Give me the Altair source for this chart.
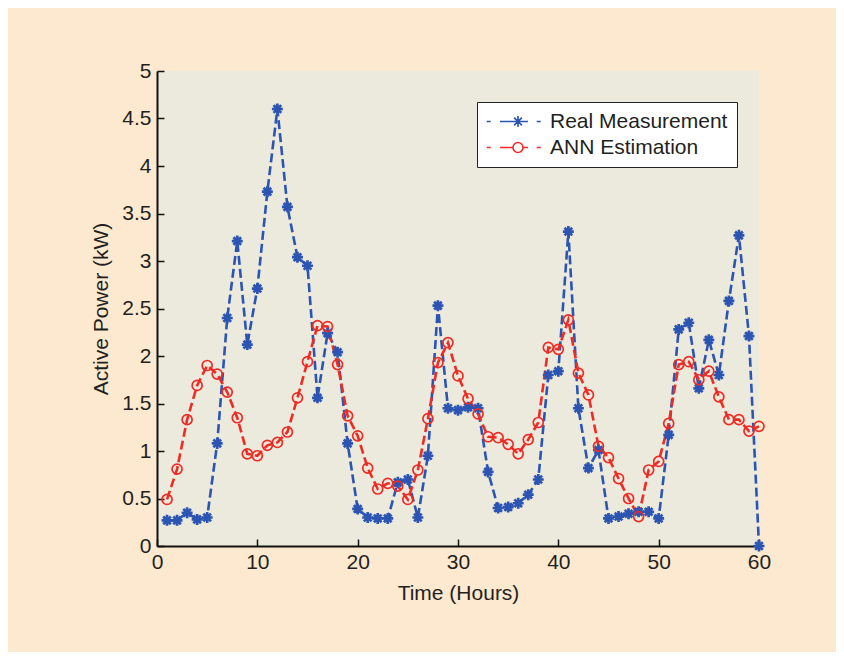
import altair as alt
import pandas as pd

hours = list(range(1, 61))
real = [0.27, 0.27, 0.35, 0.28, 0.30, 1.08, 2.40, 3.21, 2.12, 2.71,
        3.73, 4.60, 3.57, 3.04, 2.95, 1.56, 2.24, 2.04, 1.08, 0.39,
        0.30, 0.29, 0.29, 0.67, 0.70, 0.30, 0.95, 2.53, 1.45, 1.43,
        1.46, 1.45, 0.78, 0.40, 0.41, 0.45, 0.54, 0.70, 1.80, 1.84,
        3.31, 1.45, 0.82, 1.01, 0.29, 0.31, 0.34, 0.36, 0.36, 0.29,
        1.17, 2.28, 2.35, 1.66, 2.17, 1.80, 2.58, 3.27, 2.21, 0.00]
ann = [0.49, 0.81, 1.33, 1.69, 1.90, 1.81, 1.62, 1.35, 0.97, 0.95,
       1.06, 1.09, 1.20, 1.56, 1.94, 2.32, 2.31, 1.91, 1.37, 1.16,
       0.82, 0.60, 0.66, 0.63, 0.49, 0.80, 1.34, 1.93, 2.14, 1.79,
       1.55, 1.39, 1.15, 1.14, 1.07, 0.97, 1.12, 1.30, 2.09, 2.07,
       2.38, 1.82, 1.59, 1.05, 0.93, 0.71, 0.50, 0.31, 0.80, 0.89,
       1.29, 1.91, 1.94, 1.75, 1.84, 1.57, 1.33, 1.33, 1.21, 1.26]
series_names = ["Real Measurement", "ANN Estimation"]
series_colors = ["#2c54b2", "#ee2b25"]
x_ticks = [0, 10, 20, 30, 40, 50, 60]
y_ticks = [0, 0.5, 1, 1.5, 2, 2.5, 3, 3.5, 4, 4.5, 5]

df = pd.concat([
    pd.DataFrame({"hour": hours, "power": real, "series": series_names[0]}),
    pd.DataFrame({"hour": hours, "power": ann, "series": series_names[1]}),
])

FONT = "Liberation Sans"
TXT = "#231f20"

asterisk = "M-1,0L1,0M0,-1L0,1M-0.7,-0.7L0.7,0.7M-0.7,0.7L0.7,-0.7"

# legend glyphs: dash, line with marker, dash (unit = 5 px)
leg_real = ("M-1.96,0L-1.16,0M0.7,0L6.3,0M8.04,0L8.84,0"
            "M4.3,-1.1L4.3,1.1M3.52,-0.78L5.08,0.78M3.52,0.78L5.08,-0.78")
leg_ann = ("M-1.96,0L-1.16,0M0.7,0L3.3,0M5.3,0L6.3,0M8.04,0L8.84,0"
           "M5.3,0A1,1 0 1,1 3.3,0A1,1 0 1,1 5.3,0")

x_enc = alt.X("hour:Q", scale=alt.Scale(domain=[0, 60], nice=False),
              axis=alt.Axis(values=x_ticks, title="Time (Hours)", grid=False,
                            labelFlush=False,
                            domainColor="#111", domainWidth=2, tickColor="#111",
                            tickWidth=1.5, tickSize={"expr": "-7"},
                            labelPadding=12, titlePadding=10,
                            labelFontSize=21, titleFontSize=21,
                            labelFont=FONT, titleFont=FONT,
                            labelColor=TXT, titleColor=TXT,
                            titleFontWeight="normal"))
y_enc = alt.Y("power:Q", scale=alt.Scale(domain=[0, 5], nice=False),
              axis=alt.Axis(values=y_ticks, title="Active Power (kW)", grid=False,
                            labelFlush=False,
                            labelExpr="toString(datum.value)",
                            domainColor="#111", domainWidth=2, tickColor="#111",
                            tickWidth=1.5, tickSize={"expr": "-7"},
                            labelPadding=13, titlePadding=10,
                            labelFontSize=21, titleFontSize=21,
                            labelFont=FONT, titleFont=FONT,
                            labelColor=TXT, titleColor=TXT,
                            titleFontWeight="normal"))

base = alt.Chart(df)


def series_line(i):
    return base.transform_filter(alt.datum.series == series_names[i]).mark_line(
        strokeDash=[9, 4], strokeWidth=2.6, color=series_colors[i]
    ).encode(x=x_enc, y=y_enc)


pts_real = base.transform_filter(
    alt.datum.series == series_names[0]
).mark_point(shape=asterisk, size=120, strokeWidth=2.7, filled=False, opacity=1,
             color=series_colors[0]).encode(x="hour:Q", y="power:Q")

pts_ann = base.transform_filter(
    alt.datum.series == series_names[1]
).mark_point(shape="circle", size=100, strokeWidth=1.7, filled=False, opacity=1,
             color=series_colors[1]).encode(x="hour:Q", y="power:Q")

leg = alt.Legend(
    title=None, orient="none", legendX=320, legendY=31,
    padding=9, fillColor="white", strokeColor="#222",
    symbolSize=100, symbolStrokeWidth=1.6, labelOffset=43,
    labelFontSize=21, labelFont=FONT, labelColor=TXT, rowPadding=4,
    labelLimit=400,
    labelExpr="datum.label + '\u2003'")

legend_layer = base.mark_point(
    filled=False, strokeWidth=2, opacity=0
).encode(
    x="hour:Q", y="power:Q",
    color=alt.Color("series:N", scale=alt.Scale(domain=series_names, range=series_colors),
                    legend=leg),
    shape=alt.Shape("series:N", scale=alt.Scale(domain=series_names, range=[leg_real, leg_ann]),
                    legend=leg),
)

chart = alt.layer(series_line(0), series_line(1), pts_real, pts_ann, legend_layer).properties(
    width=602, height=475,
    background="#fde9d0",
    autosize=alt.AutoSizeParams(type="none"),
    padding={"left": 149, "top": 63, "right": 77, "bottom": 106},
).configure_view(
    fill="#eceadc", stroke=None,
).configure_legend(symbolOpacity=1)

chart.save("out.html", embed_options={"renderer": "svg", "actions": False})
